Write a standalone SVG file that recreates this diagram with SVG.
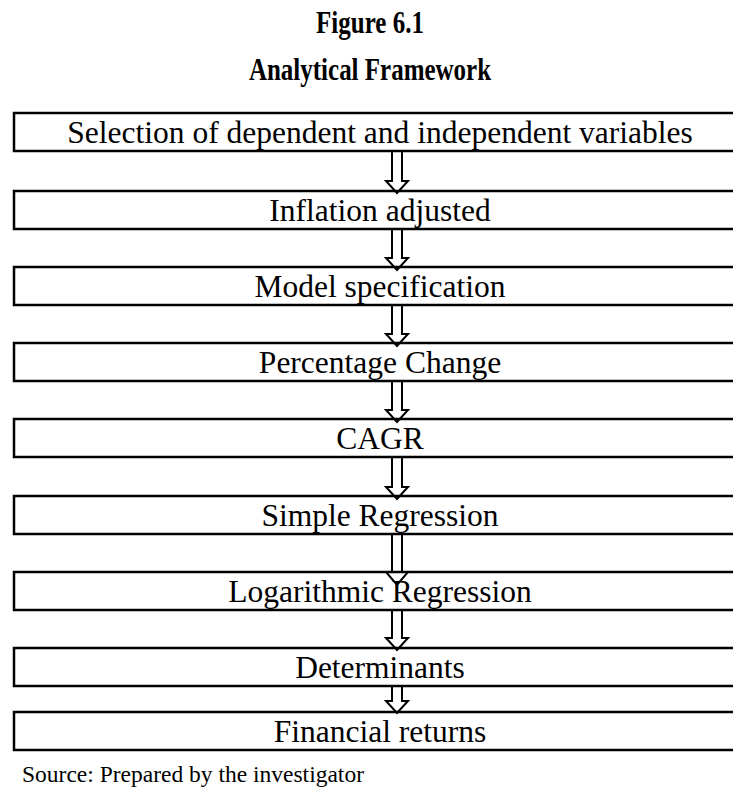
<svg xmlns="http://www.w3.org/2000/svg" width="733" height="792" viewBox="0 0 733 792">
<style>
.t{font-family:"Liberation Serif","Times New Roman",serif;fill:#000}
.title{font-size:25px;font-weight:bold;text-anchor:middle}
.lbl{font-size:31.5px;text-anchor:middle}
.box{fill:#fff;stroke:#000;stroke-width:2.5}
.arr{fill:none;stroke:#000;stroke-width:2}
.src{font-size:23.5px}
</style>
<rect width="733" height="792" fill="#fff"/>
<text class="t title" transform="translate(370,33) scale(1,1.25)">Figure 6.1</text>
<text class="t title" transform="translate(370,80) scale(1,1.25)">Analytical Framework</text>
<g id="n1"><rect class="box" x="14" y="113" width="730" height="38"/><text class="t lbl" x="380" y="143">Selection of dependent and independent variables</text></g>
<g id="n2"><rect class="box" x="14" y="191" width="730" height="38"/><text class="t lbl" x="380" y="221">Inflation adjusted</text></g>
<g id="n3"><rect class="box" x="14" y="267" width="730" height="38"/><text class="t lbl" x="380" y="297">Model specification</text></g>
<g id="n4"><rect class="box" x="14" y="343" width="730" height="38"/><text class="t lbl" x="380" y="373">Percentage Change</text></g>
<g id="n5"><rect class="box" x="14" y="419" width="730" height="38"/><text class="t lbl" x="380" y="449">CAGR</text></g>
<g id="n6"><rect class="box" x="14" y="496" width="730" height="38"/><text class="t lbl" x="380" y="526">Simple Regression</text></g>
<g id="n7"><rect class="box" x="14" y="572" width="730" height="38"/><text class="t lbl" x="380" y="602">Logarithmic Regression</text></g>
<g id="n8"><rect class="box" x="14" y="648" width="730" height="38"/><text class="t lbl" x="380" y="678">Determinants</text></g>
<g id="n9"><rect class="box" x="14" y="712" width="730" height="38"/><text class="t lbl" x="380" y="742">Financial returns</text></g>
<g id="connectors">
<path class="arr" d="M392,152 V181 H386 L397,193 L408,181 H402 V152"/>
<path class="arr" d="M392,229 V258 H386 L397,270 L408,258 H402 V229"/>
<path class="arr" d="M392,305 V334 H386 L397,346 L408,334 H402 V305"/>
<path class="arr" d="M392,381 V410 H386 L397,422 L408,410 H402 V381"/>
<path class="arr" d="M392,457 V487 H386 L397,499 L408,487 H402 V457"/>
<path class="arr" d="M392,534 V572 H386 L397,585 L408,572 H402 V534"/>
<path class="arr" d="M392,610 V638 H386 L397,650 L408,638 H402 V610"/>
<path class="arr" d="M392,686 V701 H386 L397,713 L408,701 H402 V686"/>
</g>
<text class="t src" x="22" y="782">Source: Prepared by the investigator</text>
</svg>
